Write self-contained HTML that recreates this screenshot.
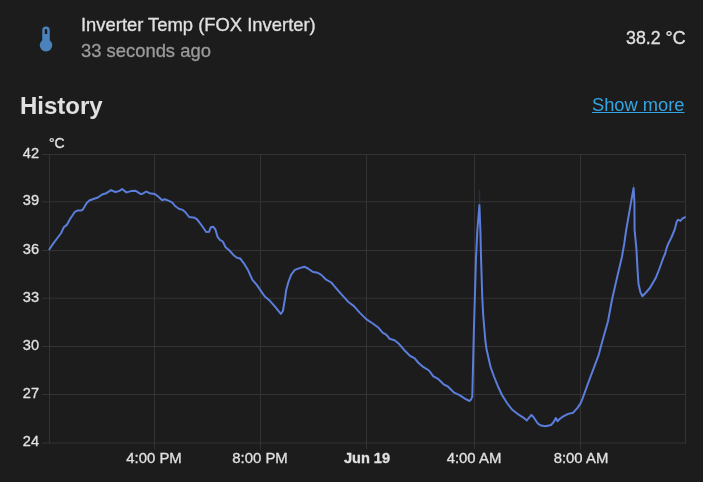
<!DOCTYPE html>
<html><head><meta charset="utf-8">
<style>
html,body{margin:0;padding:0;}
body{width:703px;height:482px;background:#1c1c1c;overflow:hidden;position:relative;font-family:"Liberation Sans",sans-serif;color:#e1e1e1;}
.a,.yl,.xl{position:absolute;white-space:nowrap;will-change:transform;}
.name,.time,.state,.yl,.xl,.unit{-webkit-text-stroke:0.3px currentColor;}
.name{left:81px;top:14.5px;font-size:18.4px;line-height:20px;}
.time{left:81px;top:40.5px;font-size:18.4px;line-height:20px;color:#9b9b9b;}
.state{right:18px;top:28px;font-size:17.8px;line-height:20px;}
.hist{left:20.3px;top:92px;font-size:24px;line-height:28px;font-weight:bold;}
.more{right:18.7px;top:94px;font-size:18.3px;line-height:22px;color:#35a4e2;text-decoration:underline;}
.yl{position:absolute;right:664.5px;width:40px;text-align:right;font-size:14.6px;line-height:18px;}
.xl{position:absolute;top:449px;width:100px;text-align:center;font-size:14.9px;line-height:18px;}
.b{font-weight:bold;font-size:14.6px;}
.unit{left:49px;top:134px;font-size:14px;line-height:18px;}
</style></head><body>
<svg class="a" style="left:0;top:0" width="703" height="482" viewBox="0 0 703 482">
<g stroke="#333333" stroke-width="1" fill="none">
<line x1="42" y1="154.5" x2="686.0" y2="154.5"/>
<line x1="42" y1="201.8" x2="686.0" y2="201.8"/>
<line x1="42" y1="250.5" x2="686.0" y2="250.5"/>
<line x1="42" y1="298.2" x2="686.0" y2="298.2"/>
<line x1="42" y1="346.5" x2="686.0" y2="346.5"/>
<line x1="42" y1="394.5" x2="686.0" y2="394.5"/>
<line x1="42" y1="443.0" x2="686.0" y2="443.0"/>
<line x1="49.5" y1="154" x2="49.5" y2="443.5"/>
<line x1="154.5" y1="154" x2="154.5" y2="449"/>
<line x1="260.5" y1="154" x2="260.5" y2="449"/>
<line x1="366.5" y1="154" x2="366.5" y2="449"/>
<line x1="474.5" y1="154" x2="474.5" y2="449"/>
<line x1="580.5" y1="154" x2="580.5" y2="449"/>
<line x1="685.5" y1="154" x2="685.5" y2="443.5"/>
</g>
<path d="M49.4 249.2 L53.7 242.9 L57.4 238.0 L61.2 233.0 L63.7 227.4 L66.8 224.9 L69.9 219.3 L74.9 211.8 L77.4 210.6 L81.1 210.6 L83.0 209.3 L86.7 203.0 L89.3 200.5 L92.7 199.2 L97.8 197.5 L102.1 194.5 L106.3 193.2 L111.0 190.1 L115.3 192.0 L119.1 191.1 L122.1 189.0 L126.4 192.4 L131.1 191.1 L135.3 190.7 L140.9 194.1 L142.6 193.7 L146.4 191.5 L149.4 193.2 L154.9 194.1 L157.9 196.2 L162.2 200.2 L164.7 199.2 L169.0 200.9 L172.4 202.6 L175.0 206.0 L179.2 209.0 L182.7 209.9 L185.2 212.0 L189.1 217.0 L194.8 217.8 L197.1 219.3 L201.7 225.5 L206.2 232.0 L209.1 231.8 L210.8 227.2 L213.1 226.7 L215.4 229.5 L217.6 236.9 L219.9 239.8 L222.8 241.5 L225.6 247.2 L229.0 250.0 L233.6 255.2 L237.0 257.7 L240.1 258.4 L243.7 263.1 L248.1 270.3 L252.4 279.8 L256.8 284.9 L261.2 291.4 L264.8 296.5 L269.9 300.8 L275.0 306.7 L280.8 313.9 L282.9 311.0 L285.1 298.0 L286.1 290.5 L288.4 282.0 L291.2 274.6 L294.9 269.9 L299.6 268.1 L304.3 266.7 L308.0 268.5 L312.6 271.8 L317.3 272.7 L321.0 274.6 L325.7 279.3 L331.3 282.5 L334.1 285.8 L340.8 293.7 L348.1 301.7 L353.9 306.1 L359.7 312.6 L366.2 319.1 L372.8 323.5 L378.6 327.8 L382.9 332.9 L385.8 334.4 L387.3 335.8 L389.5 338.7 L394.5 340.2 L398.9 343.8 L404.4 350.2 L410.2 356.0 L414.5 358.1 L418.1 362.5 L423.2 366.9 L429.0 370.5 L433.4 376.3 L438.5 379.2 L443.6 384.3 L447.9 386.5 L453.7 392.3 L459.5 395.2 L465.3 398.8 L469.5 401.0 L471.1 399.5 L472.3 396.3 L473.9 330.0 L476.0 258.0 L477.3 231.0 L479.4 205.0 L480.4 231.0 L481.1 260.0 L482.3 298.2 L483.2 315.0 L484.2 327.0 L485.3 340.0 L486.5 349.0 L488.5 358.0 L490.6 367.0 L494.0 376.5 L498.0 386.5 L502.0 395.0 L507.0 403.0 L512.0 409.5 L518.7 414.7 L523.7 417.8 L526.8 420.5 L529.3 417.3 L531.4 414.9 L533.6 417.3 L537.8 423.5 L541.0 425.6 L545.5 426.3 L551.0 425.0 L553.5 422.3 L555.8 418.0 L557.5 421.3 L559.9 418.8 L563.3 416.4 L568.2 413.9 L573.2 412.7 L577.3 408.1 L580.7 403.1 L582.8 397.9 L587.5 384.8 L593.1 369.8 L598.7 354.9 L600.6 347.4 L604.3 334.3 L608.0 321.2 L612.1 299.2 L616.8 278.6 L621.9 257.0 L624.2 244.0 L626.2 230.0 L631.1 201.8 L633.6 188.0 L634.4 201.8 L634.6 230.0 L636.4 248.7 L637.4 267.4 L638.5 284.0 L640.5 292.5 L642.4 296.3 L646.0 292.5 L649.9 288.0 L655.7 278.1 L659.5 268.5 L661.8 262.0 L663.5 257.4 L665.2 253.5 L666.3 249.0 L668.1 244.1 L671.4 237.5 L674.7 229.5 L676.7 221.8 L678.0 219.7 L680.4 220.9 L682.3 218.7 L685.0 217.2" fill="none" stroke="#5b7ddb" stroke-width="2" stroke-linejoin="round" stroke-linecap="round"/>
<path d="M479.5 206 L479.5 190" stroke="#4a66c8" stroke-width="1.5" opacity="0.22"/>
<path d="M633.6 189 L633.6 183.5" stroke="#4a66c8" stroke-width="1" opacity="0.3"/>
</svg>
<svg class="a" style="left:31px;top:24px" width="30" height="30" viewBox="0 0 24 24"><path fill="#4c82bb" d="M15 13V5A3 3 0 0 0 9 5V13A5 5 0 1 0 15 13M12 4A1 1 0 0 1 13 5V8H11V5A1 1 0 0 1 12 4Z"/></svg>
<div class="a name">Inverter Temp (FOX Inverter)</div>
<div class="a time">33 seconds ago</div>
<div class="a state">38.2 °C</div>
<div class="a hist">History</div>
<div class="a more">Show more</div>
<div class="a unit">°C</div>
<div class="yl" style="top:144px">42</div><div class="yl" style="top:191px">39</div><div class="yl" style="top:240px">36</div><div class="yl" style="top:288px">33</div><div class="yl" style="top:336px">30</div><div class="yl" style="top:384px">27</div><div class="yl" style="top:432px">24</div>
<div class="xl" style="left:103.80000000000001px">4:00 PM</div><div class="xl" style="left:210.3px">8:00 PM</div><div class="xl b" style="left:317.3px">Jun 19</div><div class="xl" style="left:424px">4:00 AM</div><div class="xl" style="left:530.6px">8:00 AM</div>
</body></html>
